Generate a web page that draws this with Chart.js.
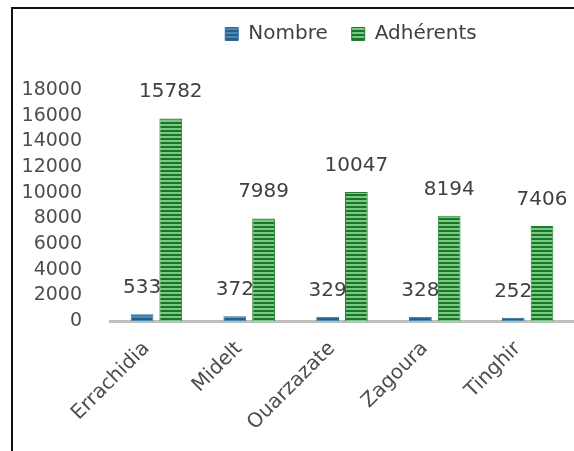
<!DOCTYPE html>
<html>
<head>
<meta charset="utf-8">
<script src="https://cdn.jsdelivr.net/npm/chart.js@4.4.1/dist/chart.umd.min.js"></script>
<style>
  html, body { margin: 0; padding: 0; background: #fff; }
  #wrap { width: 574px; height: 451px; position: relative; }
</style>
</head>
<body>
<div id="wrap"><canvas id="chart"></canvas></div>
<script>
const provinces = ['Errachidia', 'Midelt', 'Ouarzazate', 'Zagoura', 'Tinghir'];
const nombre = [533, 372, 329, 328, 252];
const adherents = [15782, 7989, 10047, 8194, 7406];
const seriesNames = ['Nombre', 'Adhérents'];
const yTicks = [0, 2000, 4000, 6000, 8000, 10000, 12000, 14000, 16000, 18000];

// striped fill like the original
function stripes(dark, light) {
    const c = document.createElement('canvas');
    c.width = 4;
    c.height = 4;
    const g = c.getContext('2d');
    g.fillStyle = light;
    g.fillRect(0, 0, 4, 4);
    g.fillStyle = dark;
    g.fillRect(0, 2, 4, 2);
    return g.createPattern(c, 'repeat');
}

const frame = {
    id: 'frame',
    beforeInit(chart) {
        // leave room between the legend and the plot
        const fit = chart.legend.fit;
        chart.legend.fit = function () {
            fit.bind(chart.legend)();
            this.height += 36;
        };
    },
    afterLayout(chart) {
        // nudge the legend a bit to the right
        chart.legend.left += 18;
    },
    beforeDraw(chart) {
        const ctx = chart.ctx;
        ctx.save();
        ctx.fillStyle = '#fff';
        ctx.fillRect(0, 0, chart.width, chart.height);
        ctx.strokeStyle = '#111';
        ctx.lineWidth = 2;
        ctx.beginPath();
        ctx.moveTo(574, 8);
        ctx.lineTo(12, 8);
        ctx.lineTo(12, 451);
        ctx.stroke();
        ctx.restore();
    }
};

const valueLabels = {
    id: 'valueLabels',
    afterDatasetsDraw(chart) {
        const ctx = chart.ctx;
        ctx.save();
        ctx.font = '20px "DejaVu Sans"';
        ctx.fillStyle = '#404040';
        ctx.textAlign = 'center';
        ctx.textBaseline = 'alphabetic';
        chart.data.datasets.forEach((ds, i) => {
            const meta = chart.getDatasetMeta(i);
            meta.data.forEach((bar, j) => {
                ctx.fillText(ds.data[j], bar.x, bar.y - 21);
            });
        });
        ctx.restore();
    }
};

const ctx = document.getElementById('chart').getContext('2d');
const myChart = new Chart(ctx, {
    type: 'bar',
    data: {
        labels: provinces,
        datasets: [{
            label: seriesNames[0],
            data: nombre,
            backgroundColor: stripes('#285f88', '#4a8ab6'),
            borderColor: '#2a6a98',
            borderWidth: 1
        }, {
            label: seriesNames[1],
            data: adherents,
            backgroundColor: stripes('#1c7529', '#78c983'),
            borderColor: '#237f30',
            borderWidth: 1
        }]
    },
    options: {
        responsive: true,
        maintainAspectRatio: false,
        animation: false,
        categoryPercentage: 0.62,
        barPercentage: 0.79,
        layout: {padding: {top: 0, right: 0, bottom: 0, left: 0}},
        plugins: {
            legend: {
                position: 'top',
                fullSize: false,
                labels: {
                    font: {family: 'DejaVu Sans', size: 20},
                    color: '#404040',
                    boxWidth: 13,
                    boxHeight: 13,
                    padding: 24
                }
            },
            tooltip: {enabled: false}
        },
        scales: {
            x: {
                grid: {display: false, drawTicks: false},
                border: {display: true, color: '#bfbfbf', width: 3},
                ticks: {
                    font: {family: 'DejaVu Sans', size: 20},
                    color: '#4d4d4d',
                    maxRotation: 45,
                    minRotation: 45,
                    padding: 16,
                    labelOffset: -10
                },
                afterFit(scale) { scale.height = 130; }
            },
            y: {
                min: 0,
                max: 18000,
                grid: {display: false, drawTicks: false},
                border: {display: false},
                afterBuildTicks(scale) {
                    scale.ticks = yTicks.map(v => ({value: v}));
                },
                ticks: {
                    font: {family: 'DejaVu Sans', size: 19},
                    color: '#4d4d4d',
                    padding: 28,
                    autoSkip: false,
                    callback: v => String(v)
                },
                afterFit(scale) { scale.width = 110; }
            }
        }
    },
    plugins: [frame, valueLabels]
});
</script>
</body>
</html>
